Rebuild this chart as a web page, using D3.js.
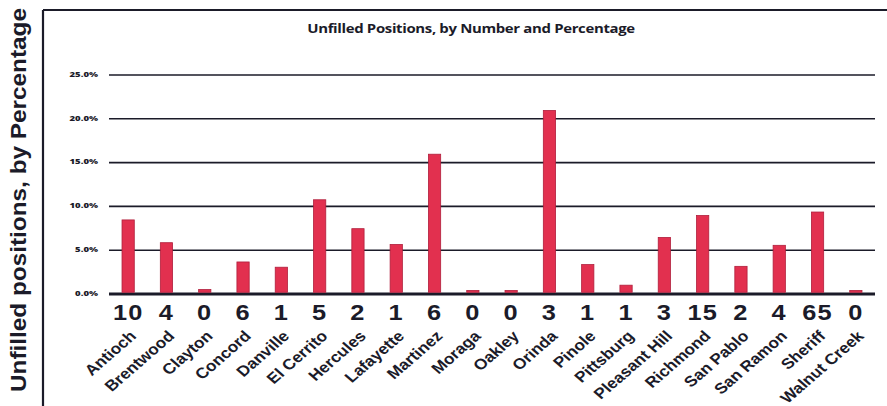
<!DOCTYPE html>
<html>
<head>
<meta charset="utf-8">
<script src="https://cdn.jsdelivr.net/npm/d3@7"></script>
<style>
  html, body { margin: 0; padding: 0; background: #ffffff; }
  svg { display: block; }
</style>
</head>
<body>
<div id="chart"></div>
<script>
// Unfilled positions per agency: percentage (bar height) and number (label under axis)
const categories = ["Antioch", "Brentwood", "Clayton", "Concord", "Danville", "El Cerrito",
  "Hercules", "Lafayette", "Martinez", "Moraga", "Oakley", "Orinda", "Pinole", "Pittsburg",
  "Pleasant Hill", "Richmond", "San Pablo", "San Ramon", "Sheriff", "Walnut Creek"];
const percentValues = [8.4, 5.8, 0.45, 3.6, 3.0, 10.7, 7.4, 5.6, 15.9, 0.35, 0.35, 20.9,
  3.3, 0.95, 6.4, 8.9, 3.1, 5.5, 9.3, 0.35];
const countValues = [10, 4, 0, 6, 1, 5, 2, 1, 6, 0, 0, 3, 1, 1, 3, 15, 2, 4, 65, 0];
const yTicks = [0, 5, 10, 15, 20, 25];
const chartTitle = "Unfilled Positions, by Number and Percentage";
const yTitle = "Unfilled positions, by Percentage";

const W = 887, H = 406;
const ink = "#1b1b29";

const svg = d3.select("#chart").append("svg")
  .attr("width", W).attr("height", H);

// Frame: top and left border
svg.append("line").attr("x1", 43).attr("x2", W).attr("y1", 10).attr("y2", 10)
  .attr("stroke", ink).attr("stroke-width", 2.2);
svg.append("line").attr("x1", 43).attr("x2", 43).attr("y1", 10).attr("y2", H)
  .attr("stroke", ink).attr("stroke-width", 2.2);

const x = d3.scaleBand()
  .domain(categories)
  .range([109, 875])
  .paddingInner(0.68)
  .paddingOuter(0.34);

const y = d3.scaleLinear()
  .domain([0, 25])
  .range([293.5, 74.5]);

// Horizontal gridlines and percentage labels
const yAxis = d3.axisLeft(y)
  .tickValues(yTicks)
  .tickSize(-(875 - 109))
  .tickPadding(10)
  .tickFormat(d => d3.format(".1f")(d) + "%");

const gAxis = svg.append("g")
  .attr("transform", "translate(109,0)")
  .call(yAxis);
gAxis.select(".domain").remove();
gAxis.selectAll(".tick line")
  .attr("stroke", ink)
  .attr("stroke-width", d => d === 0 ? 3 : 1.6);
gAxis.selectAll(".tick text")
  .attr("x", null)
  .attr("dy", null)
  .attr("fill", ink)
  .attr("font-family", "'Open Sans', sans-serif")
  .attr("font-weight", 800)
  .attr("font-size", 6.8)
  .attr("text-anchor", "end")
  .attr("dominant-baseline", "middle")
  .attr("transform", "translate(-11,0) scale(1.4,1)");

// Bars
svg.append("g").selectAll("rect")
  .data(categories)
  .join("rect")
  .attr("x", d => x(d))
  .attr("width", x.bandwidth())
  .attr("y", (d, i) => y(percentValues[i]))
  .attr("height", (d, i) => y(0) - y(percentValues[i]) - 1.2)
  .attr("fill", "#e2304f")
  .attr("stroke", "#b01f3c")
  .attr("stroke-width", 0.8);

// Numbers under the axis
svg.append("g").selectAll("text")
  .data(categories)
  .join("text")
  .attr("transform", d => `translate(${x(d) + x.bandwidth() / 2},320) scale(1.18,1)`)
  .attr("text-anchor", "middle")
  .attr("font-family", "'Liberation Sans', Arial, sans-serif")
  .attr("font-weight", "bold")
  .attr("font-size", 21.5)
  .attr("letter-spacing", 1)
  .attr("fill", ink)
  .text((d, i) => countValues[i]);

// Rotated category names
svg.append("g").selectAll("text")
  .data(categories)
  .join("text")
  .attr("transform", d => `translate(${x(d) + x.bandwidth() / 2 + 9},337) scale(1.15,1) rotate(-45)`)
  .attr("text-anchor", "end")
  .attr("font-family", "'Liberation Sans', Arial, sans-serif")
  .attr("font-weight", "bold")
  .attr("font-size", 15)
  .attr("fill", ink)
  .text(d => d);

// Chart title
svg.append("text")
  .attr("transform", "translate(471,33) scale(1.15,1)")
  .attr("text-anchor", "middle")
  .attr("font-family", "'Open Sans', sans-serif")
  .attr("font-weight", "bold")
  .attr("font-size", 13)
  .attr("letter-spacing", -0.3)
  .attr("fill", ink)
  .text(chartTitle);

// Vertical axis title
svg.append("text")
  .attr("transform", "translate(26,200) rotate(-90)")
  .attr("text-anchor", "middle")
  .attr("font-family", "'Liberation Sans', Arial, sans-serif")
  .attr("font-weight", "bold")
  .attr("font-size", 21.5)
  .attr("textLength", 384)
  .attr("lengthAdjust", "spacingAndGlyphs")
  .attr("fill", ink)
  .text(yTitle);
</script>
</body>
</html>
